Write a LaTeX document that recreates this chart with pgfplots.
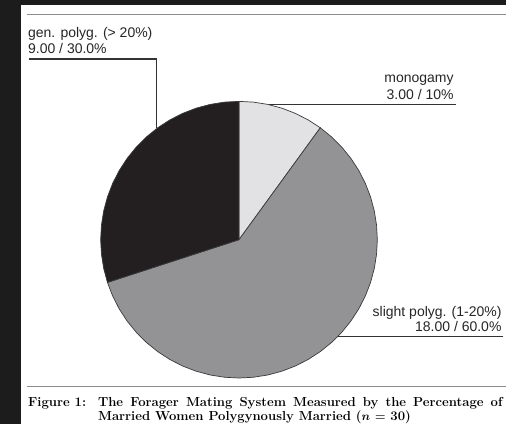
\documentclass[border=0pt]{standalone}
\usepackage{pgfplots}
\pgfplotsset{compat=1.18}
\usepackage{fontspec}
\newfontfamily\arial{Liberation Sans}
\definecolor{frame}{HTML}{1C1C1C}
\definecolor{mono}{HTML}{E2E2E4}
\definecolor{slight}{HTML}{939396}
\definecolor{gen}{HTML}{231F20}
\definecolor{edge}{HTML}{3A3A3A}
\definecolor{lead}{HTML}{333333}
\definecolor{rulegray}{HTML}{8C8C8C}
\tikzset{
  lbl/.style={font=\arial\fontsize{14}{16}\selectfont, inner sep=0pt, text=black!85},
  figcap/.style={font=\fontsize{13.1}{14}\selectfont\bfseries, inner sep=0pt},
}

\begin{document}
\begin{tikzpicture}
\begin{axis}[
  x=1pt, y=1pt,
  xmin=-239.3, xmax=267.7, ymin=-185, ymax=240,
  hide axis, clip=false,
  data cs=polar,
]
% page and frame
\fill[frame] (axis cs:-239.3,-185) rectangle (axis cs:267.7,240);
\fill[white] (axis cs:-218.3,-185) rectangle (axis cs:267.7,235);
\draw[rulegray, line width=1.3pt] (axis cs:-212.3,225.3) -- (axis cs:267.7,225.3);
\draw[rulegray, line width=1.3pt] (axis cs:-212.3,-147) -- (axis cs:267.7,-147);

% shares: monogamy 3 (10%), slight polyg. 18 (60%), gen. polyg. 9 (30%)
% wedges in (angle, radius), clockwise from 12 o'clock
\addplot[fill=mono, draw=edge, line width=0.7pt] coordinates {
  (0,0) (90,138.5) (84,138.5) (78,138.5) (72,138.5) (66,138.5) (60,138.5) (54,138.5)
} -- cycle;
\addplot[fill=slight, draw=edge, line width=0.7pt] coordinates {
  (0,0) (54,138.5) (48,138.5) (42,138.5) (36,138.5) (30,138.5) (24,138.5) (18,138.5)
  (12,138.5) (6,138.5) (0,138.5) (-6,138.5) (-12,138.5) (-18,138.5) (-24,138.5)
  (-30,138.5) (-36,138.5) (-42,138.5) (-48,138.5) (-54,138.5) (-60,138.5) (-66,138.5)
  (-72,138.5) (-78,138.5) (-84,138.5) (-90,138.5) (-96,138.5) (-102,138.5) (-108,138.5)
  (-114,138.5) (-120,138.5) (-126,138.5) (-132,138.5) (-138,138.5) (-144,138.5)
  (-150,138.5) (-156,138.5) (-162,138.5)
} -- cycle;
\addplot[fill=gen, draw=edge, line width=0.7pt] coordinates {
  (0,0) (-162,138.5) (-168,138.5) (-174,138.5) (-180,138.5) (-186,138.5) (-192,138.5)
  (-198,138.5) (-204,138.5) (-210,138.5) (-216,138.5) (-222,138.5) (-228,138.5)
  (-234,138.5) (-240,138.5) (-246,138.5) (-252,138.5) (-258,138.5) (-264,138.5) (-270,138.5)
} -- cycle;

% leader lines
\draw[lead, line width=1.2pt] (axis cs:-210.3,181) -- (axis cs:-82.3,181) -- (axis cs:-82.3,112);
\draw[lead, line width=1.2pt] (axis cs:30,135.7) -- (axis cs:217.4,135.7);
\draw[lead, line width=1.2pt] (axis cs:99,-96.7) -- (axis cs:264,-96.7);

% slice labels
\node[lbl, anchor=base west] at (axis cs:-211.3,202.7) {gen. polyg. (> 20\%)};
\node[lbl, anchor=base west] at (axis cs:-211.3,186) {9.00 / 30.0\%};
\node[lbl, anchor=base east] at (axis cs:215,157.3) {monogamy};
\node[lbl, anchor=base east] at (axis cs:215,140.7) {3.00 / 10\%};
\node[lbl, anchor=base east] at (axis cs:263,-76.7) {slight polyg. (1-20\%)};
\node[lbl, anchor=base east] at (axis cs:263,-91.7) {18.00 / 60.0\%};

% caption
\node[figcap, anchor=base west] at (axis cs:-211.3,-166.7) {Figure 1:};
\node[figcap, anchor=base west] at (axis cs:-141.3,-166.7)
  {\makebox[405pt][s]{The Forager Mating System Measured by the Percentage of}};
\node[figcap, anchor=base west] at (axis cs:-141.3,-181)
  {Married Women Polygynously Married ({\boldmath$n$} {\boldmath$=$} 30)};
\end{axis}
\end{tikzpicture}
\end{document}
